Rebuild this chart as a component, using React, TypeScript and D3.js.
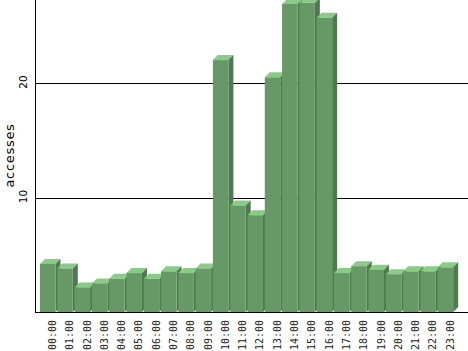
import React from "react";
import * as d3 from "d3";

const hours = ["00:00","01:00","02:00","03:00","04:00","05:00","06:00","07:00","08:00","09:00","10:00","11:00","12:00","13:00","14:00","15:00","16:00","17:00","18:00","19:00","20:00","21:00","22:00","23:00"];
const accesses = [4.2,3.8,2.15,2.5,2.9,3.4,2.9,3.55,3.4,3.8,22.0,9.3,8.45,20.5,26.9,27.0,25.7,3.4,4.0,3.7,3.3,3.55,3.55,3.9];
const yTicks = [10, 20];
const yLabel = "accesses";

const W = 468, H = 351;
const left = 35, plotLeft = 40, baseY = 312;
const step = 17.29;
const depth = 5;
const frontW = 15.5;

export default function App() {
  const x = d3.scaleBand<string>().domain(hours).range([plotLeft, plotLeft + step * hours.length]).paddingInner(0).paddingOuter(0);
  const y = d3.scaleLinear().domain([0, 27.25]).range([baseY, 0]);
  return (
    <svg width={W} height={H} style={{ position: "absolute", left: 0, top: 0, background: "#fff" }}>
      {yTicks.map((t) => (
        <g key={t}>
          <line x1={left} x2={W} y1={Math.round(y(t)) + 0.5} y2={Math.round(y(t)) + 0.5} stroke="#000" strokeWidth={1} />
          <text transform={`translate(27,${y(t) - 1}) rotate(-90)`} textAnchor="middle" fontFamily="DejaVu Sans" fontSize={10.5} fill="#000">{t}</text>
        </g>
      ))}
      <line x1={left + 0.5} x2={left + 0.5} y1={0} y2={baseY} stroke="#000" strokeWidth={1} />
      <line x1={left} x2={W} y1={baseY + 0.5} y2={baseY + 0.5} stroke="#000" strokeWidth={1} />
      <text transform={`translate(13.5,155.5) rotate(-90)`} textAnchor="middle" fontFamily="DejaVu Sans" fontSize={13} letterSpacing={0.7} fill="#000">{yLabel}</text>
      {hours.map((h, i) => {
        const x0 = x(h)!;
        const yt = y(accesses[i]);
        const x1 = x0 + frontW;
        return (
          <g key={h}>
            <polygon points={`${x0},${yt} ${x0 + depth},${yt - depth} ${x1 + depth},${yt - depth} ${x1},${yt}`} fill="#88cc88" />
            <polygon points={`${x1},${yt} ${x1 + depth},${yt - depth} ${x1 + depth},${baseY - depth} ${x1},${baseY}`} fill="#4f7a4f" />
            <rect x={x0} y={yt} width={frontW} height={baseY - yt} fill="#669966" />
          </g>
        );
      })}
      {hours.map((h) => (
        <text key={h} transform={`translate(${x(h)! + 13},320) rotate(-90)`} textAnchor="end" dominantBaseline="middle" fontFamily="DejaVu Sans Mono" fontSize={10} fill="#222">{h}</text>
      ))}
    </svg>
  );
}
